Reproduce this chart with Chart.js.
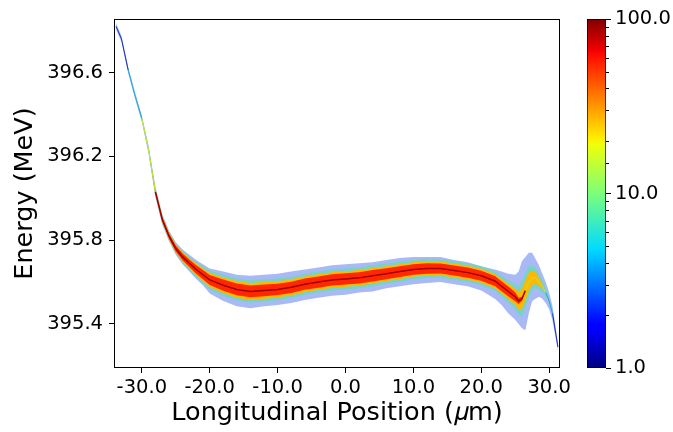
<!DOCTYPE html>
<html>
<head>
<meta charset="utf-8">
<script src="https://cdn.jsdelivr.net/npm/chart.js@4.4.1/dist/chart.umd.min.js"></script>
<style>
  body { margin: 0; background: #fff; }
  #wrap { position: relative; width: 673px; height: 432px; }
  #phase { position: absolute; left: 0; top: 0; }
  #cbar { position: absolute; left: 560px; top: 0; }
</style>
</head>
<body>
<div id="wrap">
  <canvas id="phase" width="673" height="432"></canvas>
  <canvas id="cbar" width="113" height="432"></canvas>
</div>
<script>
// values
const positionUm = [-33.8, -33, -32, -31, -30, -29, -28, -27, -26, -25, -24, -23, -22, -21, -20, -18, -16, -14, -12, -10, -8, -6, -4, -2, 0, 2, 4, 6, 8, 10, 12, 14, 16, 18, 20, 22, 23, 24, 25, 25.5, 26, 26.5, 27, 27.5, 28, 28.5, 29, 29.5, 30, 30.5, 31, 31.3]
const energyCenter = [396.82, 396.76, 396.61, 396.49, 396.38, 396.23, 396.03, 395.90, 395.82, 395.76, 395.72, 395.69, 395.66, 395.635, 395.61, 395.585, 395.565, 395.555, 395.56, 395.565, 395.575, 395.59, 395.60, 395.61, 395.615, 395.62, 395.63, 395.64, 395.65, 395.66, 395.665, 395.665, 395.655, 395.645, 395.63, 395.605, 395.58, 395.555, 395.53, 395.51, 395.52, 395.56, 395.60, 395.62, 395.62, 395.60, 395.58, 395.55, 395.51, 395.45, 395.35, 395.29]
const energyLow = [396.805, 396.745, 396.595, 396.475, 396.365, 396.21, 396.005, 395.875, 395.795, 395.73, 395.685, 395.65, 395.615, 395.585, 395.545, 395.51, 395.485, 395.475, 395.485, 395.49, 395.50, 395.515, 395.525, 395.535, 395.54, 395.55, 395.555, 395.57, 395.58, 395.59, 395.595, 395.60, 395.59, 395.58, 395.56, 395.52, 395.49, 395.45, 395.42, 395.40, 395.38, 395.37, 395.45, 395.51, 395.52, 395.53, 395.52, 395.50, 395.47, 395.415, 395.325, 395.275]
const energyHigh = [396.835, 396.775, 396.625, 396.505, 396.395, 396.25, 396.055, 395.925, 395.845, 395.79, 395.755, 395.73, 395.705, 395.685, 395.665, 395.65, 395.635, 395.63, 395.635, 395.64, 395.65, 395.66, 395.67, 395.68, 395.685, 395.69, 395.695, 395.705, 395.715, 395.72, 395.72, 395.72, 395.705, 395.695, 395.675, 395.66, 395.65, 395.64, 395.635, 395.65, 395.70, 395.72, 395.74, 395.74, 395.71, 395.68, 395.64, 395.60, 395.55, 395.485, 395.375, 395.305]
const cyanSpread = [0, 0, 0.006, 0.008, 0.01, 0.013, 0.018, 0.02, 0.022, 0.025, 0.028, 0.032, 0.036, 0.04, 0.045, 0.05, 0.053, 0.053, 0.053, 0.052, 0.05, 0.05, 0.05, 0.05, 0.05, 0.05, 0.05, 0.048, 0.048, 0.046, 0.046, 0.045, 0.045, 0.045, 0.045, 0.047, 0.048, 0.053, 0.058, 0.068, 0.085, 0.085, 0.075, 0.058, 0.048, 0.038, 0.028, 0.018, 0.012, 0, 0, 0]
const yellowSpread = [0, 0, 0, 0, 0.004, 0.007, 0.011, 0.014, 0.017, 0.019, 0.021, 0.024, 0.028, 0.03, 0.033, 0.037, 0.04, 0.04, 0.04, 0.039, 0.038, 0.037, 0.037, 0.037, 0.037, 0.037, 0.037, 0.035, 0.035, 0.034, 0.034, 0.033, 0.033, 0.033, 0.033, 0.034, 0.034, 0.037, 0.038, 0.04, 0.048, 0.048, 0.043, 0.034, 0.028, 0.019, 0.01, 0, 0, 0, 0, 0]
const redSpread = [0, 0, 0, 0, 0, 0, 0.006, 0.01, 0.012, 0.014, 0.016, 0.018, 0.02, 0.022, 0.024, 0.027, 0.028, 0.028, 0.028, 0.027, 0.027, 0.027, 0.027, 0.027, 0.027, 0.027, 0.027, 0.026, 0.026, 0.025, 0.025, 0.024, 0.024, 0.024, 0.024, 0.024, 0.024, 0.024, 0.021, 0.015, 0.01, 0, 0, 0, 0, 0, 0, 0, 0, 0, 0, 0]
const xTicks = [-30, -20, -10, 0, 10, 20, 30]
const yTicks = [395.4, 395.8, 396.2, 396.6]
const colorTicks = [1, 10, 100]
const jetStops = [[0, '#000080'], [0.11, '#0000ff'], [0.125, '#0000ff'], [0.34, '#00dbff'], [0.5, '#7bff7b'], [0.64, '#f0ff08'], [0.66, '#ffec00'], [0.89, '#ff1200'], [0.91, '#f40000'], [1, '#800000']]

const font = 'DejaVu Sans'
Chart.defaults.font.family = font
Chart.defaults.color = '#000'

function points(vals) {
    return positionUm.map((x, i) => ({ x: x, y: vals[i] }))
}

function band(spread, sign) {
    return points(energyCenter.map((e, i) => e + sign * spread[i]))
}

function edge(data, order) {
    return { data: data, order: order, borderColor: 'transparent', pointRadius: 0, fill: false }
}

function fillTo(data, color, order) {
    return { data: data, order: order, borderColor: 'transparent', pointRadius: 0, fill: '-1', backgroundColor: color }
}

// colour of the ridge line follows how dense the band is there
function ridgeColor(i) {
    if (redSpread[i] > 0) return '#a00000'
    if (yellowSpread[i] > 0) return '#b8e840'
    if (cyanSpread[i] > 0) return '#20a8e0'
    return '#1a2cc0'
}

const frame = {
    id: 'frame',
    afterDraw(chart) {
        const a = chart.chartArea
        const c = chart.ctx
        c.save()
        c.strokeStyle = '#000'
        c.lineWidth = 1
        c.strokeRect(a.left + 0.5, a.top + 0.5, a.right - a.left - 1, a.bottom - a.top - 1)
        c.restore()
    }
}

const phaseChart = new Chart(document.getElementById('phase'), {
    type: 'line',
    data: {
        datasets: [
            edge(points(energyLow), 5),
            fillTo(points(energyHigh), 'rgba(40,80,230,0.4)', 5),
            edge(band(cyanSpread, -1), 4),
            fillTo(band(cyanSpread, 1), 'rgba(90,225,170,0.65)', 4),
            edge(band(yellowSpread, -1), 3),
            fillTo(band(yellowSpread, 1), '#ffb800', 3),
            edge(band(redSpread, -1), 2),
            fillTo(band(redSpread, 1), '#ff2800', 2),
            {
                data: points(energyCenter),
                order: 1,
                borderColor: '#a00000',
                borderWidth: 1.5,
                pointRadius: 0,
                fill: false,
                segment: {
                    borderColor: (s) => ridgeColor(s.p0DataIndex),
                    borderWidth: (s) => redSpread[s.p0DataIndex] > 0 ? 1.5 : 1
                }
            }
        ]
    },
    options: {
        responsive: false,
        devicePixelRatio: 1,
        animation: false,
        layout: { padding: { left: 0, right: 113, top: 19, bottom: 0 } },
        plugins: { legend: { display: false }, tooltip: { enabled: false } },
        elements: { line: { tension: 0 } },
        scales: {
            x: {
                type: 'linear',
                min: -34.1,
                max: 31.6,
                afterBuildTicks: (s) => { s.ticks = xTicks.map(v => ({ value: v })) },
                afterFit: (s) => { s.height = 64 },
                ticks: { font: { size: 19.5 }, padding: 3, maxRotation: 0, callback: v => v.toFixed(1) },
                grid: { drawOnChartArea: false, tickLength: 5, tickColor: '#000' },
                border: { display: false },
                title: { display: true, text: 'Longitudinal Position (𝜇m)', font: { size: 25.5 }, padding: { top: 0, bottom: 3 } }
            },
            y: {
                min: 395.19,
                max: 396.855,
                afterBuildTicks: (s) => { s.ticks = yTicks.map(v => ({ value: v })) },
                afterFit: (s) => { s.width = 114 },
                ticks: { font: { size: 19.5 }, padding: 6, callback: v => v.toFixed(1) },
                grid: { drawOnChartArea: false, tickLength: 5, tickColor: '#000' },
                border: { display: false },
                title: { display: true, text: 'Energy (MeV)', font: { size: 25.5 }, padding: { top: 10, bottom: 0 } }
            }
        }
    },
    plugins: [frame]
})

// minor ticks of the colour bar are shorter than the labelled ones
const minorTicks = {
    id: 'minorTicks',
    afterDraw(chart) {
        const s = chart.scales.y
        const a = chart.chartArea
        const c = chart.ctx
        c.save()
        c.strokeStyle = '#000'
        c.lineWidth = 1
        s.ticks.forEach(t => {
            if (colorTicks.includes(t.value)) return
            const y = Math.round(s.getPixelForValue(t.value)) + 0.5
            c.beginPath()
            c.moveTo(a.right, y)
            c.lineTo(a.right + 3, y)
            c.stroke()
        })
        c.restore()
    }
}

const colorBar = new Chart(document.getElementById('cbar'), {
    type: 'bar',
    data: {
        labels: ['density'],
        datasets: [{
            data: [[colorTicks[0], colorTicks[colorTicks.length - 1]]],
            backgroundColor: (ctx) => {
                const a = ctx.chart.chartArea
                if (!a) return 'transparent'
                const g = ctx.chart.ctx.createLinearGradient(0, a.bottom, 0, a.top)
                jetStops.forEach(st => g.addColorStop(st[0], st[1]))
                return g
            },
            borderColor: '#000',
            borderWidth: 1,
            borderSkipped: false,
            barPercentage: 1,
            categoryPercentage: 1
        }]
    },
    options: {
        responsive: false,
        devicePixelRatio: 1,
        animation: false,
        layout: { padding: { left: 27, right: 0, top: 19, bottom: 64 } },
        plugins: { legend: { display: false }, tooltip: { enabled: false } },
        scales: {
            x: { display: false },
            y: {
                type: 'logarithmic',
                position: 'right',
                min: 1,
                max: 100,
                afterFit: (s) => { s.width = 67 },
                ticks: {
                    font: { size: 19.5 },
                    padding: 4,
                    autoSkip: false,
                    callback: v => colorTicks.includes(v) ? v.toFixed(1) : ''
                },
                grid: {
                    drawOnChartArea: false,
                    tickLength: 5,
                    tickColor: (c) => colorTicks.includes(c.tick.value) ? '#000' : 'transparent'
                },
                border: { display: false }
            }
        }
    },
    plugins: [minorTicks]
})
</script>
</body>
</html>
